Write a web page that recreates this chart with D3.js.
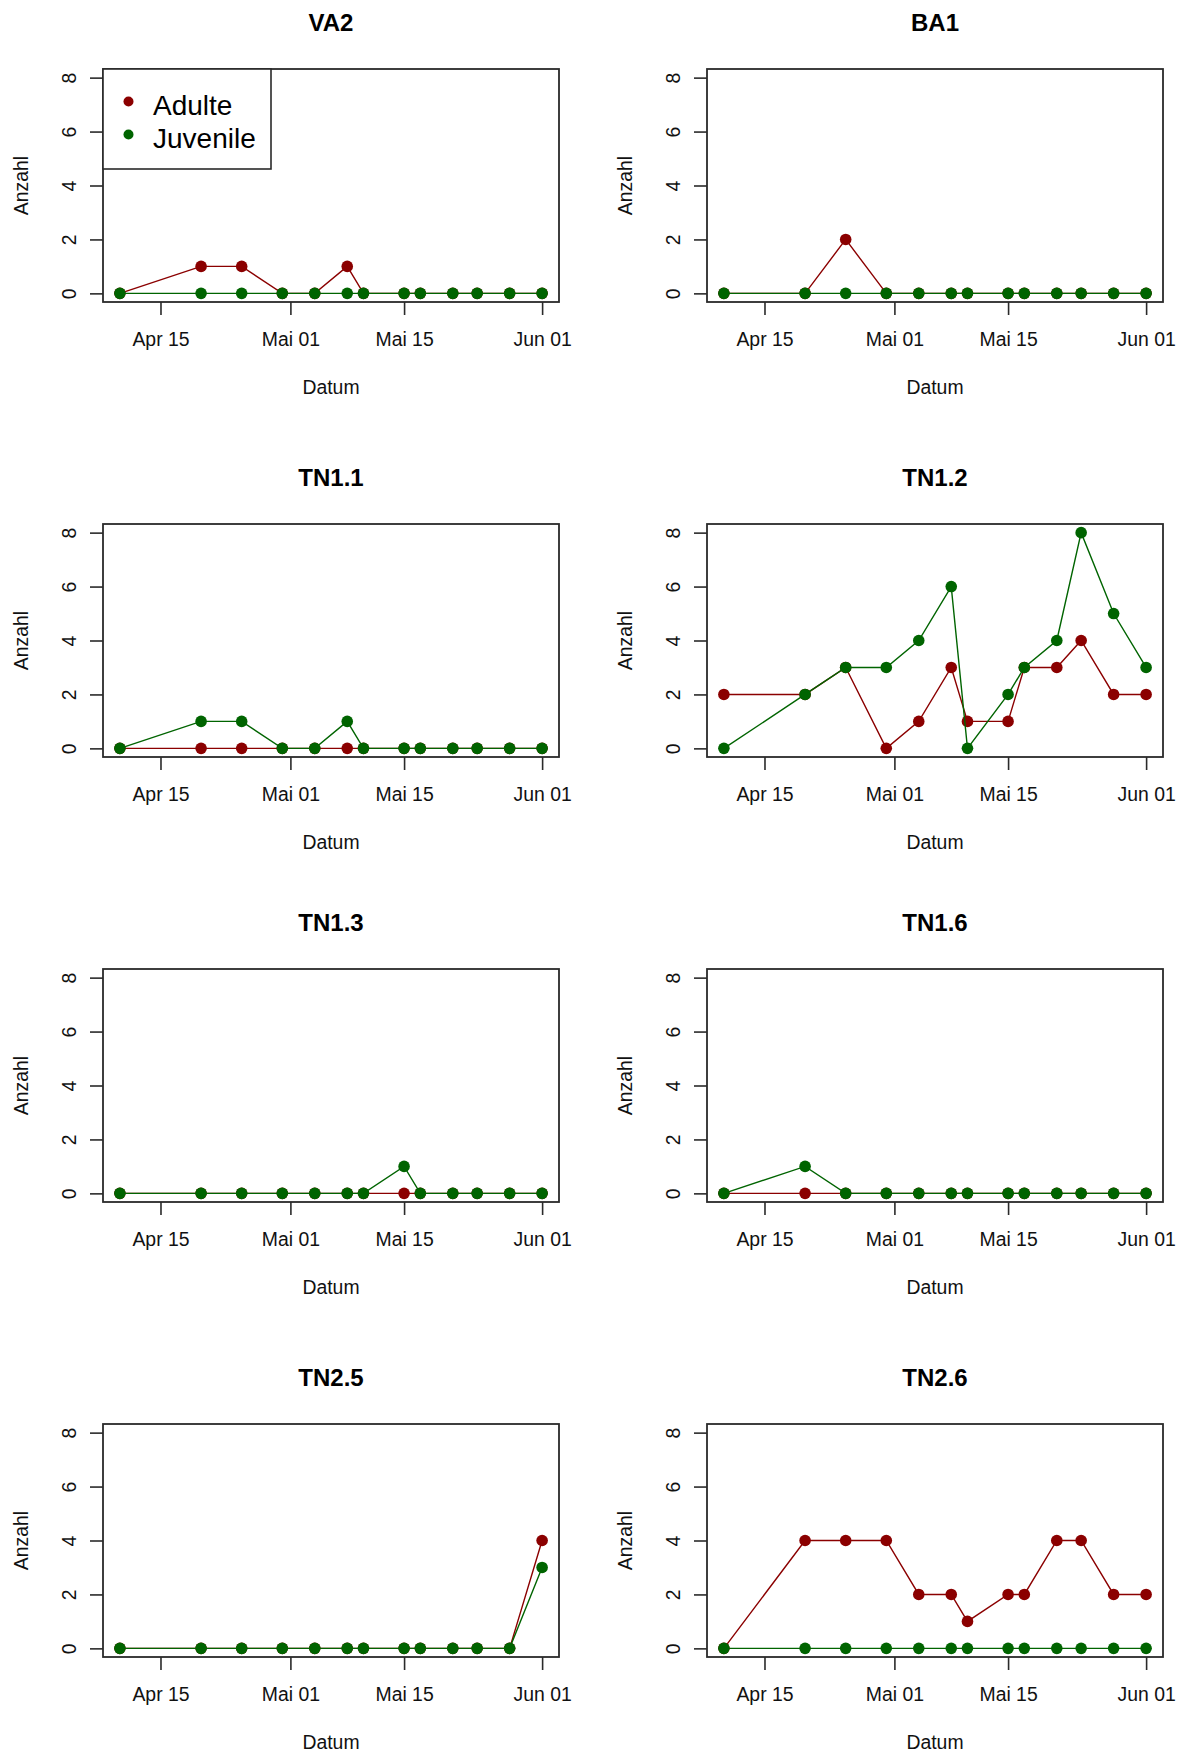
<!DOCTYPE html>
<html>
<head>
<meta charset="utf-8">
<script src="https://cdn.jsdelivr.net/npm/d3@7"></script>
<style>
  html, body { margin: 0; padding: 0; background: #fff; }
  svg { display: block; font-family: "Liberation Sans", Arial, sans-serif; }
</style>
</head>
<body>
<svg id="chart" width="1182" height="1755"></svg>
<script>
// ---------- data ----------
const dates = ["2021-04-10","2021-04-20","2021-04-25","2021-04-30","2021-05-04","2021-05-08",
               "2021-05-10","2021-05-15","2021-05-17","2021-05-21","2021-05-24","2021-05-28","2021-06-01"];
const xTickDates  = ["2021-04-15","2021-05-01","2021-05-15","2021-06-01"];
const xTickLabels = ["Apr 15","Mai 01","Mai 15","Jun 01"];
const yTicks = [0, 2, 4, 6, 8];
const sites = ["VA2","BA1","TN1.1","TN1.2","TN1.3","TN1.6","TN2.5","TN2.6"];
const seriesNames = ["Adulte","Juvenile"];

const adulteVA2    = [0,1,1,0,0,1,0,0,0,0,0,0,0];
const juvenileVA2  = [0,0,0,0,0,0,0,0,0,0,0,0,0];
const adulteBA1    = [0,0,2,0,0,0,0,0,0,0,0,0,0];
const juvenileBA1  = [0,0,0,0,0,0,0,0,0,0,0,0,0];
const adulteTN11   = [0,0,0,0,0,0,0,0,0,0,0,0,0];
const juvenileTN11 = [0,1,1,0,0,1,0,0,0,0,0,0,0];
const adulteTN12   = [2,2,3,0,1,3,1,1,3,3,4,2,2];
const juvenileTN12 = [0,2,3,3,4,6,0,2,3,4,8,5,3];
const adulteTN13   = [0,0,0,0,0,0,0,0,0,0,0,0,0];
const juvenileTN13 = [0,0,0,0,0,0,0,1,0,0,0,0,0];
const adulteTN16   = [0,0,0,0,0,0,0,0,0,0,0,0,0];
const juvenileTN16 = [0,1,0,0,0,0,0,0,0,0,0,0,0];
const adulteTN25   = [0,0,0,0,0,0,0,0,0,0,0,0,4];
const juvenileTN25 = [0,0,0,0,0,0,0,0,0,0,0,0,3];
const adulteTN26   = [0,4,4,4,2,2,1,2,2,4,4,2,2];
const juvenileTN26 = [0,0,0,0,0,0,0,0,0,0,0,0,0];

const adulteAll   = [adulteVA2, adulteBA1, adulteTN11, adulteTN12, adulteTN13, adulteTN16, adulteTN25, adulteTN26];
const juvenileAll = [juvenileVA2, juvenileBA1, juvenileTN11, juvenileTN12, juvenileTN13, juvenileTN16, juvenileTN25, juvenileTN26];

// ---------- layout ----------
const colX = [103, 707];
const rowY = [69, 524, 969, 1424];
const boxW = 456, boxH = 233;
const colors = { Adulte: "#8b0000", Juvenile: "#006400" };
const frameColor = "#2a2a2a";

const parse = d3.utcParse("%Y-%m-%d");
const dateVals = dates.map(parse);
const dMin = d3.min(dateVals), dMax = d3.max(dateVals);
const pad = (dMax - dMin) * 0.04;
const yMin = 0, yMax = 8, yPad = (yMax - yMin) * 0.04;

const svg = d3.select("#chart");
svg.append("rect").attr("width", 1182).attr("height", 1755).attr("fill", "#fff");

sites.forEach((site, i) => {
  const col = i % 2, row = Math.floor(i / 2);
  const left = colX[col], top = rowY[row];

  const x = d3.scaleUtc()
    .domain([new Date(+dMin - pad), new Date(+dMax + pad)])
    .range([left, left + boxW]);
  const y = d3.scaleLinear()
    .domain([yMin - yPad, yMax + yPad])
    .range([top + boxH, top]);

  const g = svg.append("g");

  // title
  g.append("text")
    .attr("x", left + boxW / 2).attr("y", top - 38.5)
    .attr("text-anchor", "middle")
    .attr("font-size", 24).attr("font-weight", "bold").attr("fill", "#000")
    .text(site);

  // y axis
  const yAxis = d3.axisLeft(y).tickValues(yTicks).tickSize(13).tickFormat(d3.format("d"));
  const ya = g.append("g").attr("transform", `translate(${left},0)`).call(yAxis);
  ya.select(".domain").remove();
  ya.selectAll(".tick line").attr("stroke", frameColor).attr("stroke-width", 1.6);
  ya.selectAll(".tick text")
    .attr("x", null).attr("dy", null).attr("y", null)
    .attr("text-anchor", "middle")
    .attr("transform", "translate(-27.4,0) rotate(-90)")
    .attr("font-size", 19.4).attr("fill", "#111")
    .attr("font-family", "Liberation Sans, Arial, sans-serif");

  // x axis
  const xAxis = d3.axisBottom(x)
    .tickValues(xTickDates.map(parse))
    .tickSize(13)
    .tickFormat((d, k) => xTickLabels[k]);
  const xa = g.append("g").attr("transform", `translate(0,${top + boxH})`).call(xAxis);
  xa.select(".domain").remove();
  xa.selectAll(".tick line").attr("stroke", frameColor).attr("stroke-width", 1.6);
  xa.selectAll(".tick text")
    .attr("y", 44).attr("dy", null)
    .attr("font-size", 19.4).attr("fill", "#111")
    .attr("font-family", "Liberation Sans, Arial, sans-serif");

  // axis titles
  g.append("text")
    .attr("x", left + boxW / 2).attr("y", top + boxH + 92)
    .attr("text-anchor", "middle").attr("font-size", 19.4).attr("fill", "#111")
    .text("Datum");
  g.append("text")
    .attr("transform", `translate(${left - 74.6},${top + boxH / 2}) rotate(-90)`)
    .attr("text-anchor", "middle").attr("font-size", 19.4).attr("fill", "#111")
    .text("Anzahl");

  // series
  const seriesData = [
    { name: "Adulte", values: adulteAll[i] },
    { name: "Juvenile", values: juvenileAll[i] }
  ];
  const line = d3.line().x(d => x(d.date)).y(d => y(d.v));
  seriesData.forEach(s => {
    const pts = s.values.map((v, k) => ({ date: dateVals[k], v }));
    g.append("path")
      .datum(pts)
      .attr("d", line)
      .attr("fill", "none")
      .attr("stroke", colors[s.name])
      .attr("stroke-width", 1.4);
    g.append("g").selectAll("circle")
      .data(pts).join("circle")
      .attr("cx", d => x(d.date)).attr("cy", d => y(d.v))
      .attr("r", 5.8)
      .attr("fill", colors[s.name]);
  });

  // frame
  g.append("rect")
    .attr("x", left).attr("y", top).attr("width", boxW).attr("height", boxH)
    .attr("fill", "none").attr("stroke", frameColor).attr("stroke-width", 1.8);

  // legend only in first panel
  if (i === 0) {
    const lg = g.append("g");
    lg.append("rect")
      .attr("x", left).attr("y", top).attr("width", 168).attr("height", 100)
      .attr("fill", "#fff").attr("stroke", frameColor).attr("stroke-width", 1.6);
    const ly = [top + 32.5, top + 65.5];
    seriesNames.forEach((n, k) => {
      lg.append("circle").attr("cx", left + 25.5).attr("cy", ly[k]).attr("r", 5).attr("fill", colors[n]);
      lg.append("text").attr("x", left + 50).attr("y", ly[k] + 13)
        .attr("font-size", 28).attr("fill", "#000").text(n);
    });
  }
});
</script>
</body>
</html>
